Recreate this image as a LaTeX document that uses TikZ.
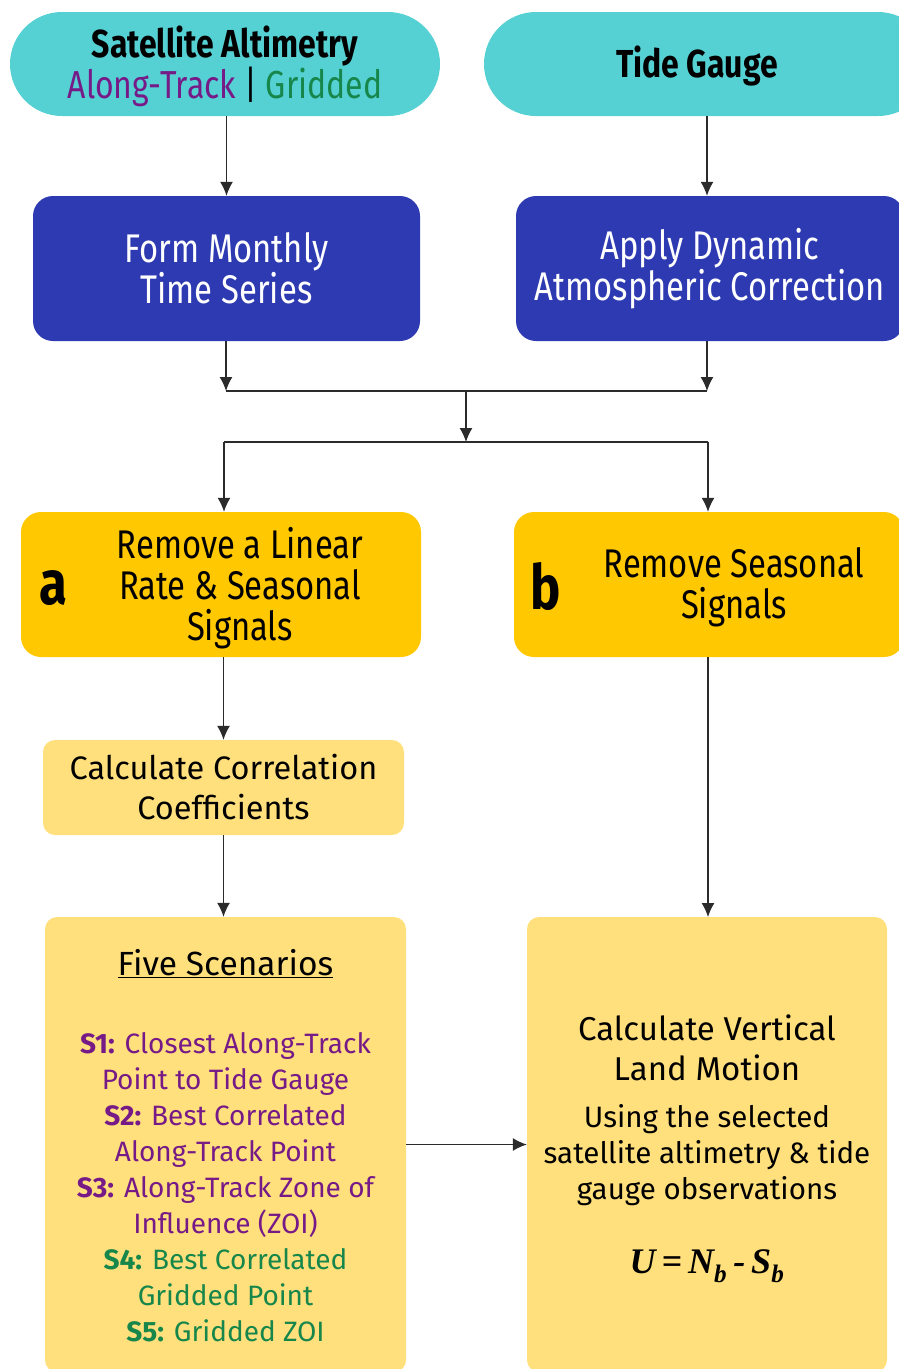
\documentclass[tikz,border=0pt]{standalone}
\usepackage{fontspec}
\setmainfont{Fira Sans}
\newfontfamily\condsans{Fira Sans}[FakeStretch=0.82]
\newfontfamily\timesfont{Liberation Serif}
\usetikzlibrary{positioning,arrows.meta}

\definecolor{pillteal}{HTML}{55D0D3}
\definecolor{stepblue}{HTML}{2E3AB1}
\definecolor{remgold}{HTML}{FFC800}
\definecolor{paleyellow}{HTML}{FFE07D}
\definecolor{trackpurple}{HTML}{761A87}
\definecolor{gridgreen}{HTML}{16864A}
\definecolor{linegray}{HTML}{2B2B2B}

\begin{document}
\begin{tikzpicture}
[x=1pt, y=-1pt, >={Latex[length=14pt,width=13pt]},
 pill/.style={rounded corners=52pt, fill=pillteal, minimum height=104pt},
 pilltext/.style={align=center, font=\condsans\fontsize{39}{41}\selectfont},
 bluebox/.style={rounded corners=20pt, fill=stepblue, text=white, minimum height=145pt, align=center, font=\condsans\fontsize{40}{41}\selectfont},
 goldbox/.style={rounded corners=20pt, fill=remgold, minimum height=145pt},
 palebox/.style={rounded corners=12pt, fill=paleyellow, align=center},
 goldtext/.style={align=center, font=\condsans\fontsize{40}{41}\selectfont},
 tag/.style={font=\condsans\bfseries\fontsize{62}{62}\selectfont},
 lowtext/.style={align=center, font=\fontsize{28}{36}\selectfont},
 flow/.style={->, draw=linegray, line width=1.3pt},
 link/.style={draw=linegray, line width=1.3pt}]
\useasboundingbox (0,0) rectangle (899,1369);
\clip (0,0) rectangle (899,1369);
% sources
\node (sat) [pill, minimum width=430pt] at (225,64) {};
\node (tide) [pill, minimum width=446pt] at (707,64) {};
\node (sattext) [pilltext] at (225,66) {\textbf{Satellite Altimetry}\\ \textcolor{trackpurple}{Along-Track} \textbar{} \textcolor{gridgreen}{Gridded}};
\node (tidetext) [pilltext] at (697,66) {\textbf{Tide Gauge}};
% preprocessing
\node (monthly) [bluebox, minimum width=387pt] at (226.5,268.5) {Form Monthly\\ Time Series};
\node (dac) [bluebox, minimum width=388pt] at (710,268.5) {Apply Dynamic\\ Atmospheric Correction};
\draw [flow] (sat.south -| monthly.north) -- (monthly.north);
\draw [flow] (tide.south) -- (tide.south |- dac.north);
% merge and split
\coordinate (joinL) at (226,391);
\coordinate (joinR) at (707,391);
\coordinate (joinM) at (466,391);
\coordinate (splitM) at (466,442);
\coordinate (splitL) at (224,442);
\coordinate (splitR) at (708,442);
\draw [flow] (joinL |- monthly.south) -- (joinL);
\draw [flow] (joinR |- dac.south) -- (joinR);
\draw [link] (joinL) -- (joinR);
\draw [flow] (joinM) -- (splitM);
\draw [link] (splitL) -- (splitR);
% a and b branches
\node (remA) [goldbox, minimum width=400pt] at (221,584.5) {};
\node (remB) [goldbox, minimum width=390pt] at (709,584.5) {};
\node (remAtext) [goldtext] at (240,588) {Remove a Linear\\ Rate \& Seasonal\\ Signals};
\node (remBtext) [goldtext] at (734,587) {Remove Seasonal\\ Signals};
\node (tagA) [tag] at (53,588) {a};
\node (tagB) [tag] at (546,586) {b};
\draw [flow] (splitL) -- (splitL |- remA.north);
\draw [flow] (splitR) -- (splitR |- remB.north);
% correlation
\node (corr) [palebox, lowtext, font=\fontsize{32.5}{40}\selectfont, minimum width=361pt, minimum height=95pt] at (223.5,787.5) {Calculate Correlation\\ Coefficients};
\draw [flow] (corr.north |- remA.south) -- (corr.north);
% scenarios
\node (scen) [palebox, minimum width=361pt, minimum height=455pt] at (225.5,1144.5) {};
\node (scenhead) [lowtext, font=\fontsize{33.5}{40}\selectfont] at (225.5,964) {\underline{Five Scenarios}};
\node (scenlist) [lowtext] at (225.5,1187.5) {\color{trackpurple}\textbf{S1:} Closest Along-Track\\
 \color{trackpurple}Point to Tide Gauge\\
 \color{trackpurple}\textbf{S2:} Best Correlated\\
 \color{trackpurple}Along-Track Point\\
 \color{trackpurple}\textbf{S3:} Along-Track Zone of\\
 \color{trackpurple}Influence (ZOI)\\
 \color{gridgreen}\textbf{S4:} Best Correlated\\
 \color{gridgreen}Gridded Point\\
 \color{gridgreen}\textbf{S5:} Gridded ZOI};
\draw [flow] (corr.south) -- (corr.south |- scen.north);
% vertical land motion
\node (vlm) [palebox, minimum width=360pt, minimum height=455pt] at (707,1144.5) {};
\node (vlmhead) [lowtext, font=\fontsize{33}{40}\selectfont] at (707,1048) {Calculate Vertical\\ Land Motion};
\node (vlmbody) [lowtext, font=\fontsize{29.5}{36}\selectfont] at (707,1155) {Using the selected\\ satellite altimetry \& tide\\ gauge observations};
\node (vlmeq) [font=\timesfont\bfseries\itshape\fontsize{36}{36}\selectfont] at (707,1266) {U\,=\,N\textsubscript{b}\,-\,S\textsubscript{b}};
\draw [flow] (remB.south -| 708,0) -- (708,917);
\draw [flow] (scen.east) -- (vlm.west);
\end{tikzpicture}
\end{document}
